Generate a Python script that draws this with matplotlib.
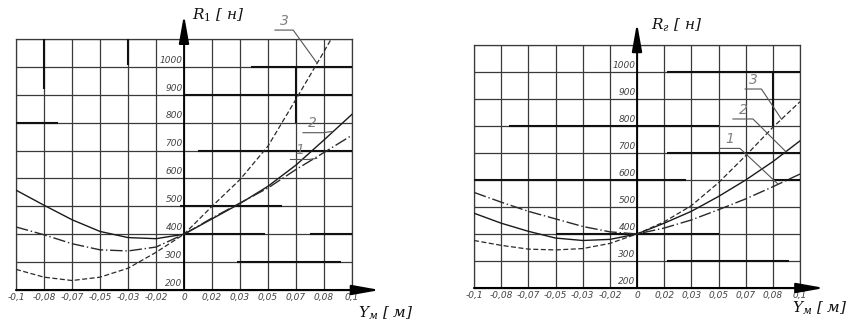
import numpy as np
import matplotlib.pyplot as plt

# column positions on the drawing (the tick labels are not evenly spaced values)
xpos = np.arange(13)
xlabels = ["-0,1", "-0,08", "-0,07", "-0,05", "-0,03", "-0,02", "0",
           "0,02", "0,03", "0,05", "0,07", "0,08", "0,1"]
ylevels = [200, 300, 400, 500, 600, 700, 800, 900, 1000, 1100]
ylabels = ["200", "300", "400", "500", "600", "700", "800", "900", "1000"]

# left chart R1
left_c1 = [426, 398, 366, 344, 340, 354, 400, 458, 512, 566, 632, 693, 755]
left_c2 = [558, 504, 452, 410, 388, 384, 400, 455, 510, 572, 648, 738, 830]
left_c3 = [274, 246, 234, 246, 278, 335, 400, 500, 596, 716, 884, 1055, 1230]

# right chart Rr
right_c1 = [554, 518, 484, 456, 428, 408, 400, 422, 452, 490, 530, 575, 622]
right_c2 = [477, 440, 410, 385, 376, 380, 400, 440, 484, 539, 600, 668, 745]
right_c3 = [376, 358, 344, 341, 346, 365, 400, 445, 505, 590, 690, 795, 890]

# heavier grid strokes from the scanned drawing: (level, from, to)
left_heavy_h = [(800, 0, 1.5), (1000, 8.4, 12), (900, 6, 12), (700, 6.5, 12),
                (500, 5.85, 9.5), (400, 6, 8.9), (400, 10.5, 12), (300, 7.9, 11.6)]
left_heavy_v = [(1, 922, 1100), (4, 1005, 1100), (10, 800, 1000)]
right_heavy_h = [(1000, 7.1, 12), (800, 1.3, 9), (700, 7.1, 12), (600, 0, 7.8),
                 (600, 11, 12), (400, 3, 9), (300, 7.1, 11.6)]
right_heavy_v = [(11, 800, 1000)]

# curve number labels: (text, text x, text y, underline x0, x1, y, leader end x, y)
left_marks = [("3", 9.6, 1140, 9.25, 9.9, 1132, 10.74, 1015),
              ("2", 10.6, 772, 10.25, 10.95, 764, 11.27, 768),
              ("1", 10.15, 676, 9.8, 10.45, 668, 10.74, 672)]
right_marks = [("3", 10.3, 945, 9.98, 10.58, 937, 11.32, 825),
               ("2", 9.9, 834, 9.53, 10.27, 826, 11.48, 705),
               ("1", 9.42, 725, 9.05, 9.79, 717, 11.2, 584)]

plt.rcParams['font.family'] = ['DejaVu Sans']
plt.rcParams['mathtext.fontset'] = 'dejavuserif'
tick_font = dict(family='Liberation Sans Narrow', style='italic', size=6.5, color='#444444')
label_font = dict(family='DejaVu Serif', style='italic', size=11, color='#111111')

fig = plt.figure(figsize=(8.49, 3.26), dpi=100)


def draw_chart(rect, c1, c2, c3, heavy_h, heavy_v, marks, ylab, ytip, xtip, ylab_pos, xlab_pos):
    ax = fig.add_axes(rect)
    ax.set_xlim(0, 12)
    ax.set_ylim(200, 1100)
    ax.set_xticks(xpos)
    ax.set_xticklabels(xlabels, **tick_font)
    ax.set_yticks(ylevels)
    ax.set_yticklabels([])
    ax.tick_params(length=0, pad=2)
    ax.grid(True, color='#3a3a3a', lw=0.9)
    for s in ax.spines.values():
        s.set_color('#3a3a3a')
        s.set_linewidth(0.9)

    for y, a, b in heavy_h:
        ax.hlines(y, a, b, color='#111111', lw=1.5, zorder=3)
    for x, a, b in heavy_v:
        ax.vlines(x, a, b, color='#111111', lw=1.5, zorder=3)

    ax.plot(xpos, c2, color='#1a1a1a', lw=1.0, zorder=4)
    ax.plot(xpos, c1, color='#2a2a2a', lw=1.0, ls=(0, (9, 2, 1, 2)), zorder=4)
    ax.plot(xpos, c3, color='#2a2a2a', lw=0.9, ls=(0, (4, 2)), zorder=4)

    for lvl, txt in zip(ylevels, ylabels):
        ax.text(5.95, lvl + 8, txt, ha='right', va='bottom', zorder=5, **tick_font)

    # axes with arrows
    ax.annotate('', xy=(6, ytip), xytext=(6, 1100), xycoords='data',
                arrowprops=dict(arrowstyle='-|>,head_length=1.4,head_width=0.25',
                                mutation_scale=12, color='black', lw=1.5),
                annotation_clip=False)
    ax.annotate('', xy=(xtip, 200), xytext=(0, 200), xycoords='data',
                arrowprops=dict(arrowstyle='-|>,head_length=1.4,head_width=0.25',
                                mutation_scale=12, color='black', lw=1.5,
                                shrinkA=0, shrinkB=0),
                annotation_clip=False)
    ax.plot([6, 6], [200, 1100], color='black', lw=1.3, zorder=3)

    ax.text(ylab_pos[0], ylab_pos[1], ylab, ha='left', va='center', clip_on=False, **label_font)
    ax.text(xlab_pos[0], xlab_pos[1], r'$Y_{м}$ [ м]', ha='left', va='center', clip_on=False,
            **label_font)

    for t, tx, ty, u0, u1, uy, lx, ly in marks:
        ax.text(tx, ty, t, ha='center', va='bottom', clip_on=False,
                family='DejaVu Sans', style='italic', size=10, color='#808080')
        ax.plot([u0, u1, lx], [uy, uy, ly], color='#555555', lw=0.8, clip_on=False, zorder=5)
    return ax


draw_chart([16 / 849, 36 / 326, 336 / 849, 251 / 326], left_c1, left_c2, left_c3,
           left_heavy_h, left_heavy_v, left_marks, r'$R_{1}$ [ н]', 1197, 13.0,
           (6.3, 1186), (12.2, 115))
draw_chart([474 / 849, 38 / 326, 326 / 849, 243 / 326], right_c1, right_c2, right_c3,
           right_heavy_h, right_heavy_v, right_marks, r'$R_{г}$ [ н]', 1192, 12.9,
           (6.5, 1174), (11.7, 125))

fig.savefig('out.png', dpi=100)
